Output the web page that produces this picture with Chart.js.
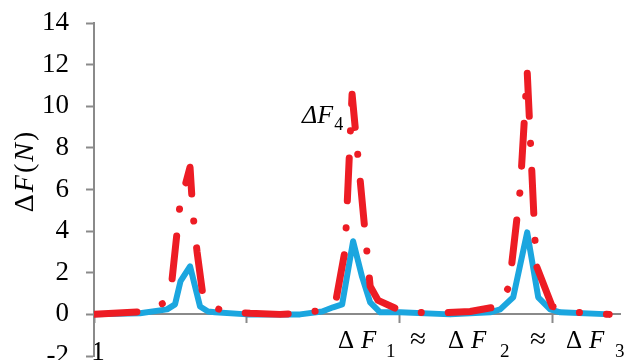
<!DOCTYPE html>
<html>
<head>
<meta charset="utf-8">
<script src="https://cdn.jsdelivr.net/npm/chart.js@4.4.1/dist/chart.umd.min.js"></script>
<style>
  html, body { margin: 0; padding: 0; background: #fff; }
</style>
</head>
<body>
<canvas id="chart" width="625" height="360"></canvas>
<script>
// sample position (axis units, first sample labelled "1") and force change ΔF in N
const blueX = [0, 5.42, 8.61, 9.55, 10.2, 11.32, 12.5, 13.44, 14.27, 18.04, 24.29, 26.89, 28.18, 29.25, 30.54, 31.6, 32.55, 33.73, 36.08, 41.98, 46.7, 47.88, 49.41, 51.06, 52.36, 53.77, 54.95, 60.85];
const blueY = [0, 0.05, 0.24, 0.48, 1.6, 2.31, 0.38, 0.14, 0.1, 0, 0, 0.14, 0.34, 0.48, 3.51, 1.8, 0.58, 0.1, 0.1, 0, 0.1, 0.24, 0.82, 3.94, 0.82, 0.24, 0.1, 0];

const redX = [0, 6.01, 8.14, 9.2, 10.14, 11.32, 11.67, 12.15, 12.85, 13.44, 15.33, 18.4, 21.93, 24.29, 26.77, 28.54, 29.6, 30.42, 32.55, 33.49, 36.08, 39.62, 44.34, 47.64, 48.94, 50.24, 51.06, 52.12, 54.01, 56.84, 60.73];
const redY = [0, 0.14, 0.53, 1.68, 5.29, 7.07, 4.8, 3.0, 0.87, 0.48, 0.14, 0.05, 0, 0.05, 0.19, 0.72, 3.1, 10.58, 1.35, 0.67, 0.19, 0.05, 0.14, 0.38, 1.35, 6.0, 11.68, 2.36, 0.38, 0.1, 0];

const yMin = -2;
const yMax = 14;
const yStep = 2;
const xMax = 62;
const xStep = 18;
const firstLabel = '1';

const serif = "'Liberation Serif', 'Times New Roman', serif";
const axisGrey = '#8a8a8a';

function toPoints(xs, ys) {
  return xs.map((x, i) => ({ x, y: ys[i] }));
}

// text boxes of the original figure: axis title, peak note, and the ΔF note under the axis
const notes = {
  id: 'notes',
  afterDraw(chart) {
    const ctx = chart.ctx;
    ctx.save();
    ctx.fillStyle = '#000';
    ctx.textAlign = 'left';
    ctx.textBaseline = 'alphabetic';

    // y title, rotated
    const title = [['Δ', ''], ['F', 'italic '], ['(', ''], ['N', 'italic '], [')', '']];
    const gap = 2;
    ctx.save();
    ctx.translate(33, 172);
    ctx.rotate(-Math.PI / 2);
    let w = 0;
    for (const [t, st] of title) {
      ctx.font = st + '28px ' + serif;
      w += ctx.measureText(t).width + gap;
    }
    let x = -(w - gap) / 2;
    for (const [t, st] of title) {
      ctx.font = st + '28px ' + serif;
      ctx.fillText(t, x, 0);
      x += ctx.measureText(t).width + gap;
    }
    ctx.restore();

    // ΔF4 near the middle peak
    ctx.font = 'italic 26px ' + serif;
    ctx.fillText('ΔF', 302, 123);
    const f4 = ctx.measureText('ΔF').width;
    ctx.font = '18px ' + serif;
    ctx.fillText('4', 302 + f4 + 1, 130);

    // Δ F1 ≈ Δ F2 ≈ Δ F3 under the axis
    const pieces = [
      ['Δ', 338, 'n'], ['F', 361, 'i'], ['1', 386, 's'], ['≈', 410, 'a'],
      ['Δ', 448, 'n'], ['F', 471, 'i'], ['2', 500, 's'], ['≈', 530, 'a'],
      ['Δ', 566, 'n'], ['F', 589, 'i'], ['3', 615, 's']
    ];
    for (const [t, px, kind] of pieces) {
      if (kind === 's') {
        ctx.font = '19px ' + serif;
        ctx.fillText(t, px, 357);
      } else if (kind === 'a') {
        ctx.font = '29px ' + serif;
        ctx.fillText(t, px, 348);
      } else {
        ctx.font = (kind === 'i' ? 'italic ' : '') + '25px ' + serif;
        ctx.fillText(t, px, 348);
      }
    }
    ctx.restore();
  }
};

new Chart(document.getElementById('chart'), {
  type: 'line',
  data: {
    datasets: [
      {
        label: 'ΔF dash-dot',
        data: toPoints(redX, redY),
        borderColor: '#ED1C24',
        borderWidth: 7,
        borderDash: [43, 27, 0.1, 27],
        borderCapStyle: 'round',
        borderJoinStyle: 'round',
        pointRadius: 0,
        tension: 0,
        order: 0
      },
      {
        label: 'ΔF',
        data: toPoints(blueX, blueY),
        borderColor: '#1BA6DF',
        borderWidth: 6,
        borderJoinStyle: 'round',
        pointRadius: 0,
        tension: 0,
        order: 1
      }
    ]
  },
  options: {
    responsive: false,
    animation: false,
    devicePixelRatio: 1,
    layout: { padding: { left: 0, right: 5, top: 23, bottom: 4 } },
    plugins: { legend: { display: false }, tooltip: { enabled: false } },
    scales: {
      x: {
        type: 'linear',
        position: { y: 0 },
        min: 0,
        max: xMax,
        afterFit(s) { s.height = 0; s.paddingLeft = 0; s.paddingRight = 0; },
        border: { color: axisGrey, width: 2 },
        grid: { drawOnChartArea: false, tickLength: 8, tickColor: axisGrey, tickWidth: 2 },
        ticks: {
          stepSize: xStep,
          includeBounds: false,
          autoSkip: false,
          maxRotation: 0,
          padding: 14,
          labelOffset: 4,
          color: '#000',
          font: { family: serif, size: 27 },
          callback: v => (v === 0 ? firstLabel : '')
        }
      },
      y: {
        min: yMin,
        max: yMax,
        afterFit(s) { s.width = 94; s.paddingTop = 0; s.paddingBottom = 0; },
        border: { color: axisGrey, width: 2 },
        grid: { drawOnChartArea: false, tickLength: 8, tickColor: axisGrey, tickWidth: 2 },
        ticks: {
          stepSize: yStep,
          padding: 17,
          color: '#000',
          font: { family: serif, size: 27 }
        }
      }
    }
  },
  plugins: [notes]
});
</script>
</body>
</html>
